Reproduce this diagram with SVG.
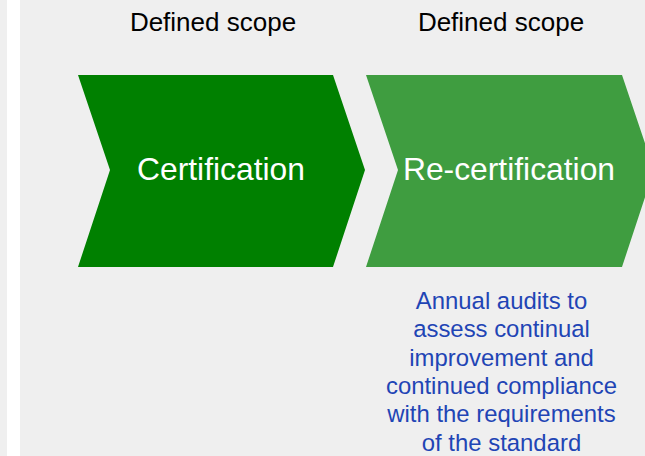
<svg xmlns="http://www.w3.org/2000/svg" width="645" height="456" viewBox="0 0 645 456">
<style>
.lbl{font-family:"Liberation Sans",Arial,sans-serif;font-size:26px;fill:#000;text-anchor:middle}
.big{font-family:"Liberation Sans",Arial,sans-serif;font-size:31.8px;fill:#fff;text-anchor:middle}
.note{font-family:"Liberation Sans",Arial,sans-serif;font-size:23.9px;fill:#1f45b5;text-anchor:middle}
</style>
<rect x="0" y="0" width="645" height="456" fill="#efefef"/>
<rect x="7" y="0" width="13" height="456" fill="#ffffff"/>
<g id="label-1"><text class="lbl" x="213" y="31">Defined scope</text></g>
<g id="label-2"><text class="lbl" x="501" y="31">Defined scope</text></g>
<g id="certification">
<polygon points="78,75 333,75 365,170 333,267 78,267 110,170" fill="#008000"/>
<text class="big" x="221" y="180">Certification</text>
</g>
<g id="re-certification">
<polygon points="366,75 622,75 654,170 622,267 366,267 398,170" fill="#3f9d40"/>
<text class="big" x="509" y="180">Re-certification</text>
</g>
<g id="note">
<text class="note" x="501.5" y="309">Annual audits to</text>
<text class="note" x="501.5" y="337.3">assess continual</text>
<text class="note" x="501.5" y="365.6">improvement and</text>
<text class="note" x="501.5" y="393.9">continued compliance</text>
<text class="note" x="501.5" y="422.2">with the requirements</text>
<text class="note" x="501.5" y="450.5">of the standard</text>
</g>
<g id="connectors"></g>
</svg>
